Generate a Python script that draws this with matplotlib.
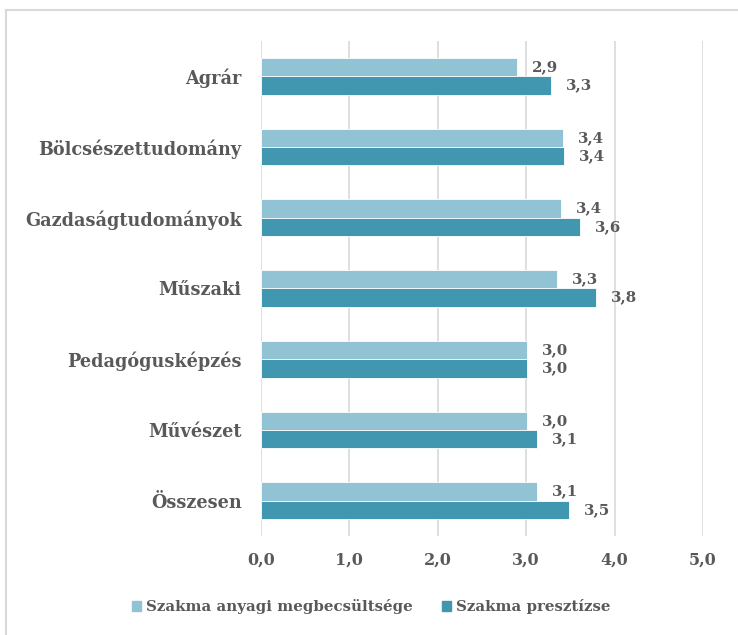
import numpy as np
import matplotlib.pyplot as plt
from matplotlib.lines import Line2D

categories = ['Agrár', 'Bölcsészettudomány', 'Gazdaságtudományok', 'Műszaki',
              'Pedagógusképzés', 'Művészet', 'Összesen']
anyagi = [2.90, 3.42, 3.39, 3.35, 3.01, 3.01, 3.12]
presztizs = [3.28, 3.43, 3.61, 3.79, 3.01, 3.12, 3.48]
anyagi_labels = ['2,9', '3,4', '3,4', '3,3', '3,0', '3,0', '3,1']
presztizs_labels = ['3,3', '3,4', '3,6', '3,8', '3,0', '3,1', '3,5']
xticks = [0, 1, 2, 3, 4, 5]
xtick_labels = ['0,0', '1,0', '2,0', '3,0', '4,0', '5,0']

light = '#92C3D4'
dark = '#4197B0'
grey = '#595959'
plt.rcParams['font.family'] = ['DejaVu Serif']
plt.rcParams['font.weight'] = 'bold'

fig = plt.figure(figsize=(7.38, 6.35), dpi=100)
ax = fig.add_axes([0.3537, 0.1559, 0.5989, 0.7796])

y = np.arange(len(categories))
h = 0.26
ax.barh(y - h / 2, anyagi, height=h, color=light, edgecolor='white', linewidth=0.6, zorder=3)
ax.barh(y + h / 2, presztizs, height=h, color=dark, edgecolor='white', linewidth=0.6, zorder=3)

# data labels
for i in range(len(categories)):
    ax.annotate(anyagi_labels[i], (anyagi[i], y[i] - h / 2), xytext=(15, 0),
                textcoords='offset pixels', va='center', ha='left',
                fontsize=10.8, color=grey, fontweight='bold')
    ax.annotate(presztizs_labels[i], (presztizs[i], y[i] + h / 2), xytext=(15, 0),
                textcoords='offset pixels', va='center', ha='left',
                fontsize=10.8, color=grey, fontweight='bold')

ax.set_xlim(0, 5)
ax.set_ylim(len(categories) - 0.5, -0.5)
ax.set_xticks(xticks)
ax.set_xticklabels(xtick_labels, fontsize=11.5, color=grey, fontweight='bold')
ax.set_yticks(y)
ax.set_yticklabels(categories, fontsize=12.7, color=grey, fontweight='bold')
ax.tick_params(axis='y', length=0, pad=14)
ax.tick_params(axis='x', length=0, pad=11)
ax.grid(axis='x', color='#D9D9D9', linewidth=1.2, zorder=0)
for s in ax.spines.values():
    s.set_visible(False)

# outer chart frame (only top and left edges visible)
fig.add_artist(Line2D([6 / 738, 6 / 738], [0, 1 - 10 / 635], color='#D9D9D9', lw=1.5))
fig.add_artist(Line2D([6 / 738, 1], [1 - 10 / 635, 1 - 10 / 635], color='#D9D9D9', lw=1.5))

handles = [plt.Rectangle((0, 0), 1, 1, color=light), plt.Rectangle((0, 0), 1, 1, color=dark)]
fig.legend(handles, ['Szakma anyagi megbecsültsége', 'Szakma presztízse'],
           loc='center', bbox_to_anchor=(0.503, 1 - 607 / 635), ncol=2, frameon=False,
           handlelength=0.6, handleheight=0.6, handletextpad=0.3, columnspacing=2.0,
           prop={'size': 10.8, 'weight': 'bold'}, labelcolor=grey)

fig.savefig('out.png', dpi=100)
